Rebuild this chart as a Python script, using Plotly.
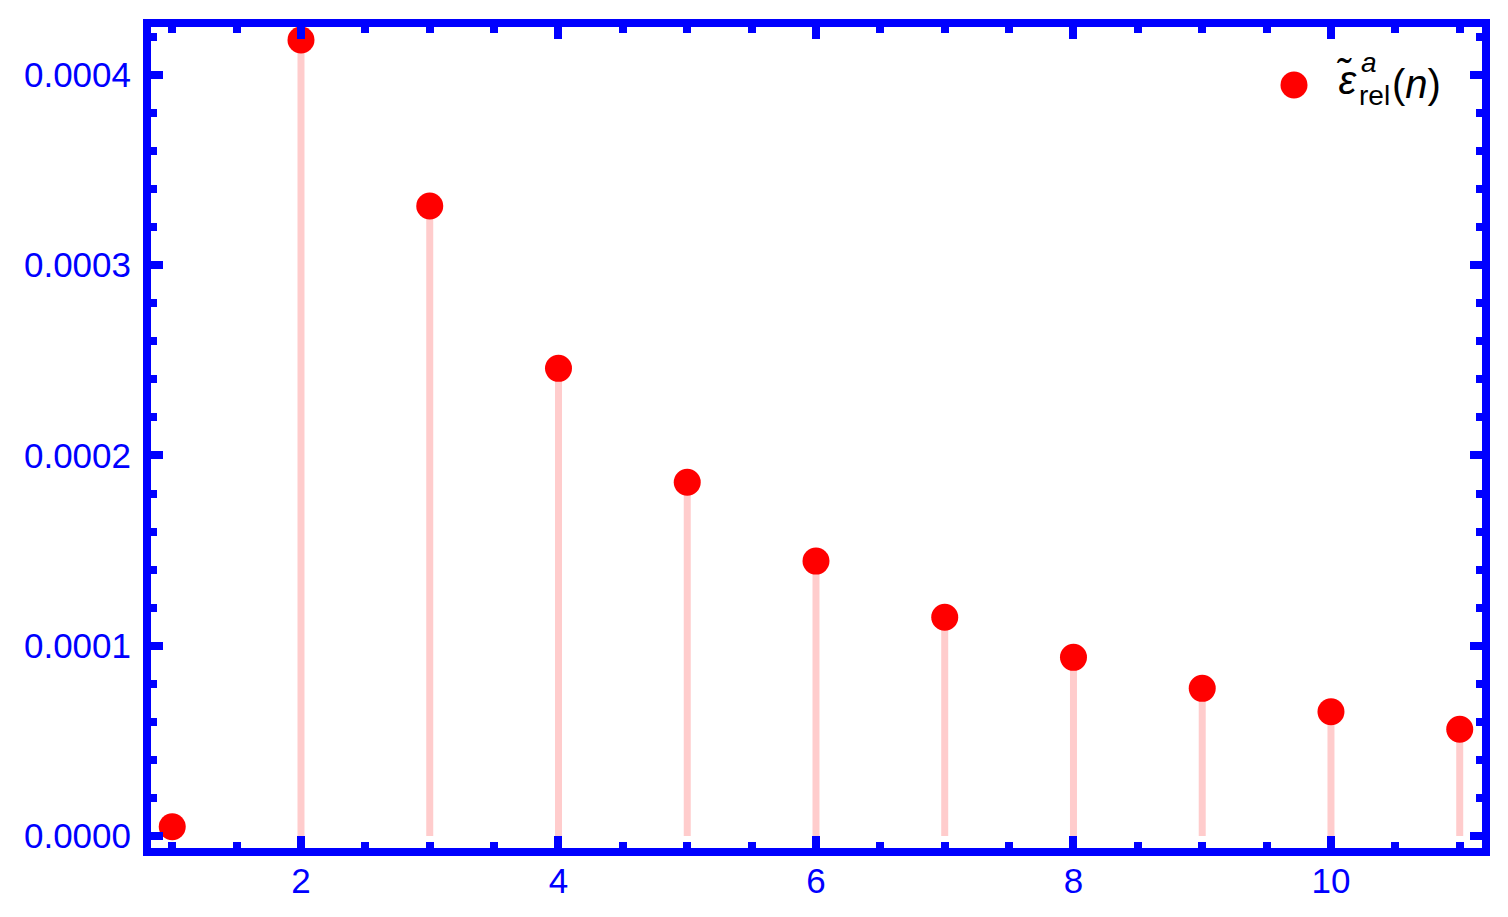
import plotly.graph_objects as go

# relative error per n
n_vals = [1, 2, 3, 4, 5, 6, 7, 8, 9, 10, 11]
eps_rel = [4.9e-6, 4.184e-4, 3.311e-4, 2.458e-4, 1.859e-4, 1.445e-4,
           1.150e-4, 9.39e-5, 7.76e-5, 6.53e-5, 5.61e-5]

x_ticks = [2, 4, 6, 8, 10]
y_ticks = [0.0, 0.0001, 0.0002, 0.0003, 0.0004]

BLUE = "#0000ff"
FONT = "Liberation Sans, Arial, sans-serif"

# plot area (inner edge of the frame) in pixels, used to place the legend
L, T, W, H = 151, 27, 1331, 821


def px(x):
    return (x - L) / W


def py(y):
    return (T + H - y) / H


# stems down to the axis
stem_x, stem_y = [], []
for n, v in zip(n_vals, eps_rel):
    stem_x += [n, n, None]
    stem_y += [0, v, None]

fig = go.Figure()
fig.add_trace(go.Scatter(
    x=stem_x, y=stem_y, mode="lines",
    line=dict(color="#ffcccc", width=7),
    showlegend=False, hoverinfo="skip",
))
fig.add_trace(go.Scatter(
    x=n_vals, y=eps_rel, mode="markers",
    marker=dict(color="#ff0000", size=27),
    showlegend=False,
))

axis_common = dict(
    showline=True, linecolor=BLUE, linewidth=8, mirror="ticks",
    ticks="inside", ticklen=12, tickwidth=8, tickcolor=BLUE,
    showgrid=False, zeroline=False, automargin=False,
    tickfont=dict(family=FONT, size=35, color=BLUE),
)

# legend drawn by hand: big dot + stacked sub/superscript label
fig.add_shape(
    type="circle", xref="paper", yref="paper",
    xsizemode="pixel", ysizemode="pixel",
    xanchor=px(1294), yanchor=py(85),
    x0=-13.5, x1=13.5, y0=-13.5, y1=13.5,
    fillcolor="#ff0000", line=dict(width=0),
)
legend_bits = [
    ("<i>ε̃</i>", 1346, 80, 40),
    ("<i>a</i>", 1369, 63, 28),
    ("rel", 1374, 96, 28),
    ("(<i>n</i>)", 1416, 84, 40),
]
for txt, x, y, size in legend_bits:
    fig.add_annotation(
        text=txt, xref="paper", yref="paper", x=px(x), y=py(y),
        xanchor="center", yanchor="middle", showarrow=False,
        font=dict(family=FONT, size=size, color="black"),
    )

fig.update_layout(
    width=1508, height=917,
    margin=dict(l=143, r=34, t=19, b=77),
    paper_bgcolor="white", plot_bgcolor="white",
    font=dict(family=FONT),
    showlegend=False,
    xaxis=dict(
        range=[0.835, 11.173], tickvals=x_ticks, ticklabelstandoff=-5,
        minor=dict(dtick=0.5, tick0=0, ticks="inside", ticklen=6,
                   tickwidth=8, tickcolor=BLUE, showgrid=False),
        **axis_common,
    ),
    yaxis=dict(
        range=[-6.3e-6, 4.252e-4], tickvals=y_ticks, tickformat=".4f",
        ticklabelstandoff=5,
        minor=dict(dtick=0.00002, tick0=0, ticks="inside", ticklen=6,
                   tickwidth=8, tickcolor=BLUE, showgrid=False),
        **axis_common,
    ),
)

fig.write_html("out.html")
